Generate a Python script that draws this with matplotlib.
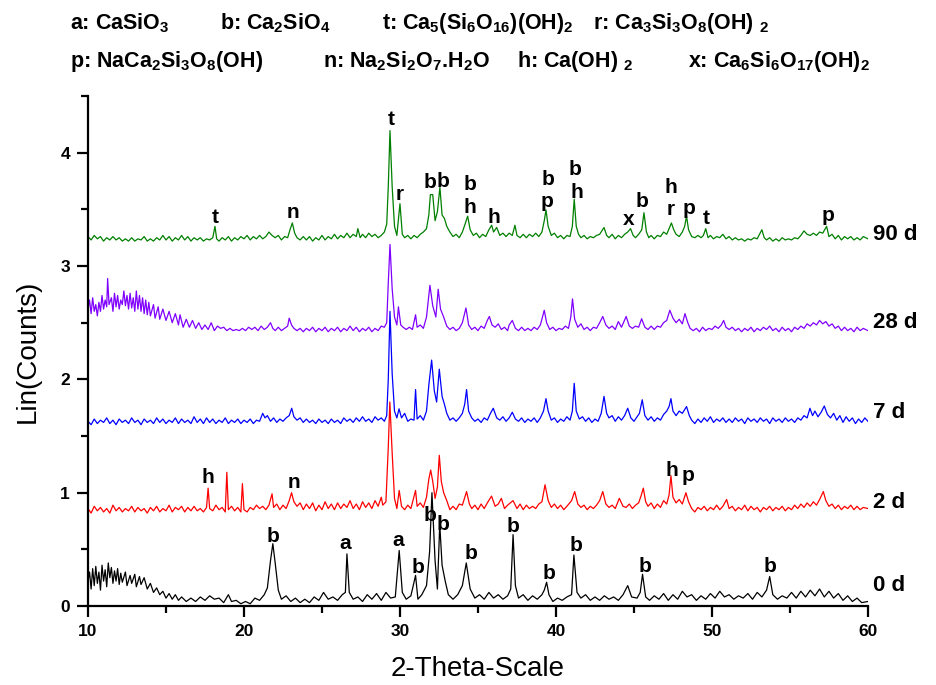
import matplotlib
matplotlib.use("Agg")
import matplotlib.pyplot as plt
from matplotlib.ticker import MultipleLocator

plt.rcParams['font.family'] = ['Liberation Sans', 'DejaVu Sans']
plt.rcParams['mathtext.fontset'] = 'custom'
plt.rcParams['mathtext.rm'] = 'Liberation Sans:bold'
plt.rcParams['mathtext.bf'] = 'Liberation Sans:bold'
plt.rcParams['mathtext.it'] = 'Liberation Sans:bold'
plt.rcParams['mathtext.default'] = 'bf'

# ---------------- data (2-theta, Lin counts) ----------------
d0 = [(10.0,0.22),(10.1,0.30),(10.2,0.15),(10.3,0.33),(10.4,0.18),(10.5,0.35),(10.6,0.20),(10.7,0.30),(10.8,0.14),(10.9,0.36),
      (11.0,0.22),(11.1,0.32),(11.2,0.17),(11.3,0.38),(11.4,0.25),(11.5,0.34),(11.6,0.20),(11.7,0.31),(11.8,0.22),(11.9,0.33),
      (12.0,0.19),(12.1,0.29),(12.2,0.21),(12.4,0.30),(12.5,0.18),(12.7,0.27),(12.8,0.20),(13.0,0.28),(13.1,0.17),(13.3,0.26),
      (13.4,0.19),(13.6,0.25),(13.8,0.15),(14.0,0.20),(14.2,0.12),(14.4,0.16),(14.6,0.10),(14.8,0.13),(15.0,0.07),(15.2,0.11),
      (15.4,0.06),(15.6,0.10),(15.8,0.05),(16.0,0.08),(16.3,0.04),(16.6,0.07),(16.9,0.04),(17.2,0.08),(17.5,0.05),(17.8,0.09),
      (18.1,0.06),(18.4,0.07),(18.7,0.03),(19.0,0.10),(19.2,0.04),(19.5,0.05),(19.8,0.02),(20.1,0.04),(20.4,0.02),(20.7,0.07),
      (21.0,0.05),(21.3,0.10),(21.5,0.16),(21.7,0.40),(21.85,0.55),(22.0,0.38),(22.2,0.14),(22.4,0.06),(22.7,0.09),(23.0,0.04),
      (23.3,0.07),(23.6,0.03),(23.9,0.06),(24.2,0.03),(24.5,0.08),(24.8,0.05),(25.1,0.12),(25.4,0.06),(25.7,0.08),(26.0,0.05),
      (26.3,0.10),(26.5,0.12),(26.6,0.46),(26.75,0.12),(27.0,0.06),(27.3,0.08),(27.6,0.04),(27.9,0.10),(28.2,0.06),(28.5,0.11),
      (28.8,0.05),(29.1,0.12),(29.4,0.07),(29.7,0.08),(29.95,0.49),(30.15,0.12),(30.4,0.06),(30.7,0.09),(31.0,0.27),(31.15,0.06),
      (31.4,0.10),(31.7,0.18),(31.9,0.48),(32.05,1.00),(32.25,0.40),(32.4,0.15),(32.55,0.72),(32.7,0.36),(32.9,0.22),(33.1,0.10),
      (33.4,0.06),(33.7,0.10),(34.0,0.18),(34.25,0.38),(34.5,0.15),(34.8,0.07),(35.1,0.10),(35.4,0.06),(35.7,0.12),(36.0,0.07),
      (36.3,0.10),(36.6,0.06),(36.9,0.09),(37.1,0.15),(37.25,0.63),(37.4,0.18),(37.6,0.07),(37.9,0.10),(38.2,0.05),(38.5,0.09),
      (38.8,0.06),(39.1,0.10),(39.25,0.14),(39.4,0.21),(39.55,0.10),(39.8,0.04),(40.1,0.07),(40.4,0.05),(40.7,0.08),(41.0,0.10),
      (41.15,0.45),(41.35,0.12),(41.6,0.07),(41.9,0.10),(42.2,0.05),(42.5,0.08),(42.8,0.05),(43.1,0.09),(43.4,0.06),(43.7,0.08),
      (44.0,0.05),(44.3,0.10),(44.6,0.18),(44.85,0.08),(45.2,0.07),(45.4,0.12),(45.55,0.28),(45.75,0.08),(46.0,0.05),(46.3,0.09),
      (46.6,0.06),(46.9,0.11),(47.2,0.05),(47.5,0.10),(47.8,0.06),(48.1,0.13),(48.4,0.08),(48.7,0.10),(49.0,0.05),(49.3,0.09),
      (49.6,0.06),(49.9,0.11),(50.2,0.07),(50.5,0.13),(50.8,0.08),(51.1,0.10),(51.4,0.06),(51.7,0.09),(52.0,0.07),(52.3,0.11),
      (52.6,0.06),(52.9,0.12),(53.2,0.08),(53.5,0.14),(53.7,0.26),(53.9,0.10),(54.2,0.06),(54.5,0.09),(54.8,0.07),(55.1,0.12),
      (55.4,0.07),(55.7,0.13),(56.0,0.08),(56.3,0.14),(56.6,0.09),(56.9,0.15),(57.2,0.08),(57.5,0.13),(57.8,0.07),(58.1,0.11),
      (58.4,0.05),(58.7,0.09),(59.0,0.04),(59.3,0.07),(59.6,0.03),(60.0,0.04)]

d2 = [(10.0,0.86),(10.2,0.82),(10.4,0.88),(10.6,0.84),(10.8,0.87),(11.0,0.83),(11.2,0.86),(11.4,0.82),(11.6,0.89),(11.8,0.84),
      (12.0,0.87),(12.2,0.83),(12.4,0.86),(12.6,0.84),(12.8,0.88),(13.0,0.83),(13.2,0.87),(13.4,0.84),(13.6,0.86),(13.8,0.82),
      (14.0,0.87),(14.2,0.84),(14.4,0.88),(14.6,0.83),(14.8,0.86),(15.0,0.84),(15.2,0.89),(15.4,0.83),(15.6,0.87),(15.8,0.85),
      (16.0,0.88),(16.2,0.83),(16.4,0.87),(16.6,0.84),(16.8,0.88),(17.0,0.84),(17.2,0.86),(17.4,0.83),(17.6,0.87),(17.7,1.04),
      (17.8,0.86),(18.0,0.84),(18.2,0.89),(18.4,0.85),(18.6,0.87),(18.8,0.83),(18.9,1.18),(19.0,0.85),(19.2,0.88),(19.4,0.84),
      (19.6,0.87),(19.8,0.83),(19.9,1.08),(20.0,0.85),(20.2,0.83),(20.4,0.87),(20.6,0.85),(20.8,0.89),(21.0,0.86),(21.2,0.88),
      (21.4,0.85),(21.6,0.89),(21.8,0.99),(21.9,0.87),(22.1,0.90),(22.3,0.85),(22.5,0.89),(22.7,0.86),(22.9,0.93),(23.05,1.00),
      (23.2,0.92),(23.4,0.88),(23.6,0.91),(23.8,0.85),(24.0,0.90),(24.2,0.86),(24.4,0.91),(24.6,0.84),(24.8,0.89),(25.0,0.85),
      (25.2,0.92),(25.4,0.86),(25.6,0.90),(25.8,0.85),(26.0,0.91),(26.2,0.86),(26.4,0.90),(26.6,0.87),(26.8,0.93),(27.0,0.86),
      (27.2,0.90),(27.4,0.85),(27.6,0.92),(27.8,0.87),(28.0,0.91),(28.2,0.86),(28.4,0.93),(28.6,0.88),(28.8,0.96),(28.9,0.89),
      (29.1,0.92),(29.25,1.40),(29.35,1.80),(29.5,1.35),(29.65,0.95),(29.8,0.86),(29.95,1.02),(30.1,0.88),(30.3,0.85),(30.5,0.89),
      (30.7,0.86),(31.0,1.02),(31.1,0.88),(31.3,0.91),(31.5,0.87),(31.7,0.96),(31.85,1.12),(31.97,1.20),(32.1,1.10),(32.25,0.95),
      (32.4,1.05),(32.52,1.33),(32.65,1.10),(32.8,1.00),(33.0,0.93),(33.2,0.85),(33.4,0.88),(33.6,0.85),(33.8,0.90),(34.0,0.89),
      (34.27,1.01),(34.45,0.90),(34.6,0.86),(34.8,0.89),(35.0,0.85),(35.2,0.90),(35.4,0.86),(35.6,0.91),(35.87,0.97),(36.1,0.88),
      (36.3,0.90),(36.5,0.95),(36.7,0.86),(36.9,0.89),(37.25,0.93),(37.5,0.86),(37.7,0.90),(37.9,0.85),(38.1,0.89),(38.3,0.86),
      (38.5,0.88),(38.7,0.86),(38.9,0.90),(39.1,0.92),(39.3,1.07),(39.5,0.93),(39.7,0.87),(39.9,0.90),(40.1,0.86),(40.3,0.89),
      (40.5,0.85),(40.7,0.88),(41.0,0.93),(41.2,1.01),(41.4,0.90),(41.6,0.87),(41.8,0.89),(42.0,0.85),(42.2,0.88),(42.4,0.86),
      (42.6,0.89),(42.8,0.93),(43.0,1.01),(43.2,0.90),(43.4,0.87),(43.6,0.89),(43.8,0.86),(44.06,0.95),(44.3,0.88),(44.5,0.87),
      (44.7,0.90),(44.9,0.86),(45.1,0.89),(45.3,0.91),(45.45,0.97),(45.6,1.04),(45.75,0.92),(45.9,0.88),(46.1,0.91),(46.3,0.86),
      (46.5,0.90),(46.7,0.87),(46.9,0.93),(47.1,0.90),(47.25,0.98),(47.37,1.15),(47.5,0.96),(47.7,0.91),(47.9,0.94),(48.1,0.90),
      (48.33,1.00),(48.5,0.92),(48.7,0.86),(48.9,0.83),(49.1,0.87),(49.3,0.85),(49.5,0.88),(49.7,0.84),(49.9,0.87),(50.1,0.85),
      (50.3,0.89),(50.5,0.85),(50.7,0.88),(50.94,0.94),(51.1,0.86),(51.3,0.88),(51.5,0.84),(51.7,0.87),(51.9,0.85),(52.1,0.89),
      (52.3,0.84),(52.5,0.88),(52.7,0.85),(52.9,0.87),(53.1,0.83),(53.3,0.87),(53.5,0.85),(53.7,0.88),(53.9,0.84),(54.1,0.87),
      (54.3,0.85),(54.5,0.88),(54.7,0.84),(54.9,0.87),(55.1,0.85),(55.3,0.89),(55.5,0.86),(55.7,0.90),(55.9,0.87),(56.1,0.91),
      (56.3,0.88),(56.5,0.92),(56.7,0.89),(56.9,0.94),(57.14,1.01),(57.3,0.93),(57.5,0.88),(57.7,0.90),(57.9,0.86),(58.1,0.89),
      (58.3,0.85),(58.5,0.88),(58.7,0.86),(58.9,0.89),(59.1,0.85),(59.3,0.88),(59.5,0.85),(59.7,0.87),(60.0,0.86)]

d7 = [(10.0,1.63),(10.2,1.60),(10.4,1.65),(10.6,1.61),(10.8,1.64),(11.0,1.62),(11.2,1.66),(11.4,1.61),(11.6,1.64),(11.8,1.60),
      (12.0,1.65),(12.2,1.62),(12.4,1.64),(12.6,1.61),(12.8,1.66),(13.0,1.62),(13.2,1.64),(13.4,1.60),(13.6,1.65),(13.8,1.62),
      (14.0,1.64),(14.2,1.61),(14.4,1.66),(14.6,1.62),(14.8,1.65),(15.0,1.61),(15.2,1.64),(15.4,1.62),(15.6,1.66),(15.8,1.61),
      (16.0,1.65),(16.2,1.62),(16.4,1.64),(16.6,1.61),(16.8,1.67),(17.0,1.62),(17.2,1.65),(17.4,1.61),(17.6,1.66),(17.8,1.62),
      (18.0,1.65),(18.2,1.61),(18.4,1.64),(18.6,1.62),(18.8,1.66),(19.0,1.61),(19.2,1.64),(19.4,1.62),(19.6,1.65),(19.8,1.61),
      (20.0,1.64),(20.2,1.62),(20.4,1.65),(20.6,1.61),(20.8,1.64),(21.0,1.63),(21.2,1.70),(21.35,1.66),(21.5,1.68),(21.7,1.63),
      (21.9,1.66),(22.1,1.62),(22.3,1.65),(22.5,1.63),(22.7,1.66),(22.9,1.68),(23.06,1.745),(23.2,1.67),(23.4,1.64),(23.6,1.66),
      (23.8,1.62),(24.0,1.65),(24.2,1.62),(24.4,1.64),(24.6,1.61),(24.8,1.65),(25.0,1.62),(25.2,1.64),(25.4,1.61),(25.6,1.65),
      (25.8,1.62),(26.0,1.64),(26.2,1.61),(26.4,1.66),(26.6,1.63),(26.8,1.65),(27.0,1.62),(27.2,1.66),(27.4,1.63),(27.6,1.67),
      (27.8,1.63),(28.0,1.65),(28.2,1.62),(28.4,1.67),(28.6,1.64),(28.8,1.66),(29.0,1.63),(29.15,1.68),(29.25,2.00),(29.36,2.60),
      (29.5,2.05),(29.65,1.72),(29.8,1.66),(29.94,1.74),(30.1,1.66),(30.3,1.70),(30.5,1.63),(30.7,1.65),(30.9,1.64),(31.0,1.91),
      (31.1,1.65),(31.3,1.68),(31.5,1.64),(31.7,1.72),(31.85,1.95),(32.03,2.17),(32.2,1.90),(32.35,1.80),(32.52,2.09),(32.7,1.85),
      (32.85,1.78),(33.0,1.70),(33.2,1.64),(33.4,1.66),(33.6,1.63),(33.8,1.66),(34.0,1.70),(34.15,1.78),(34.27,1.91),(34.4,1.72),
      (34.6,1.66),(34.8,1.63),(35.0,1.65),(35.2,1.62),(35.4,1.66),(35.6,1.64),(35.8,1.70),(35.98,1.745),(36.2,1.66),(36.4,1.64),
      (36.6,1.67),(36.8,1.63),(37.0,1.66),(37.2,1.71),(37.4,1.65),(37.6,1.63),(37.8,1.66),(38.0,1.62),(38.2,1.65),(38.4,1.63),
      (38.6,1.66),(38.8,1.62),(39.0,1.66),(39.2,1.72),(39.36,1.83),(39.5,1.72),(39.7,1.64),(39.9,1.66),(40.1,1.62),(40.3,1.65),
      (40.5,1.63),(40.7,1.67),(40.9,1.64),(41.05,1.72),(41.17,1.965),(41.3,1.72),(41.5,1.65),(41.7,1.67),(41.9,1.63),(42.1,1.66),
      (42.3,1.62),(42.5,1.65),(42.7,1.63),(42.9,1.70),(43.08,1.85),(43.25,1.70),(43.4,1.66),(43.6,1.68),(43.8,1.63),(44.0,1.67),
      (44.2,1.64),(44.4,1.68),(44.6,1.745),(44.8,1.66),(45.0,1.63),(45.2,1.67),(45.35,1.70),(45.53,1.82),(45.7,1.68),(45.9,1.64),
      (46.1,1.67),(46.3,1.63),(46.5,1.66),(46.7,1.64),(46.9,1.69),(47.1,1.72),(47.25,1.76),(47.37,1.83),(47.5,1.72),(47.7,1.68),
      (47.9,1.72),(48.1,1.70),(48.37,1.76),(48.55,1.68),(48.7,1.64),(48.9,1.61),(49.1,1.65),(49.3,1.62),(49.5,1.66),(49.7,1.63),
      (49.9,1.67),(50.1,1.62),(50.3,1.65),(50.5,1.63),(50.7,1.66),(50.9,1.62),(51.1,1.65),(51.3,1.62),(51.5,1.66),(51.7,1.63),
      (51.9,1.65),(52.1,1.61),(52.3,1.66),(52.5,1.63),(52.7,1.65),(52.9,1.62),(53.1,1.66),(53.3,1.63),(53.5,1.65),(53.7,1.61),
      (53.9,1.66),(54.1,1.63),(54.3,1.65),(54.5,1.62),(54.7,1.66),(54.9,1.63),(55.1,1.65),(55.3,1.62),(55.5,1.66),(55.7,1.64),
      (55.9,1.68),(56.1,1.66),(56.28,1.745),(56.45,1.68),(56.6,1.72),(56.8,1.67),(57.0,1.71),(57.2,1.765),(57.4,1.69),(57.6,1.66),
      (57.8,1.70),(58.0,1.64),(58.2,1.68),(58.4,1.62),(58.6,1.67),(58.8,1.63),(59.0,1.66),(59.2,1.61),(59.4,1.65),(59.6,1.62),
      (59.8,1.66),(60.0,1.63)]

d28 = [(10.0,2.62),(10.1,2.70),(10.2,2.58),(10.3,2.72),(10.4,2.60),(10.5,2.66),(10.6,2.56),(10.7,2.68),(10.8,2.60),(10.9,2.74),
       (11.0,2.62),(11.1,2.70),(11.2,2.64),(11.26,2.89),(11.35,2.66),(11.5,2.72),(11.6,2.60),(11.7,2.76),(11.8,2.64),(11.9,2.74),
       (12.0,2.62),(12.1,2.70),(12.2,2.66),(12.3,2.78),(12.4,2.65),(12.5,2.74),(12.6,2.62),(12.7,2.76),(12.8,2.63),(12.9,2.72),
       (13.0,2.60),(13.1,2.78),(13.2,2.62),(13.3,2.74),(13.4,2.60),(13.5,2.72),(13.6,2.58),(13.7,2.70),(13.8,2.57),(13.9,2.68),
       (14.0,2.56),(14.2,2.66),(14.3,2.54),(14.5,2.64),(14.6,2.53),(14.8,2.62),(15.0,2.52),(15.2,2.60),(15.4,2.50),(15.6,2.58),
       (15.8,2.48),(15.9,2.57),(16.1,2.46),(16.3,2.53),(16.5,2.46),(16.7,2.52),(16.9,2.45),(17.1,2.50),(17.3,2.44),(17.5,2.48),
       (17.7,2.44),(17.9,2.50),(18.1,2.43),(18.3,2.47),(18.5,2.45),(18.7,2.46),(18.9,2.43),(19.1,2.45),(19.3,2.43),(19.5,2.44),
       (19.7,2.43),(19.9,2.45),(20.1,2.43),(20.3,2.46),(20.5,2.44),(20.7,2.46),(20.9,2.43),(21.1,2.47),(21.3,2.44),(21.5,2.46),
       (21.7,2.50),(21.85,2.45),(22.0,2.43),(22.2,2.46),(22.4,2.43),(22.6,2.45),(22.8,2.47),(22.9,2.54),(23.05,2.48),(23.2,2.45),
       (23.4,2.43),(23.6,2.45),(23.8,2.42),(24.0,2.45),(24.2,2.43),(24.4,2.46),(24.6,2.42),(24.8,2.45),(25.0,2.43),(25.2,2.46),
       (25.4,2.42),(25.6,2.45),(25.8,2.43),(26.0,2.46),(26.2,2.42),(26.4,2.45),(26.6,2.43),(26.8,2.47),(27.0,2.43),(27.2,2.46),
       (27.4,2.42),(27.6,2.45),(27.8,2.43),(28.0,2.46),(28.2,2.42),(28.4,2.45),(28.6,2.43),(28.8,2.47),(29.0,2.46),(29.15,2.50),
       (29.25,2.85),(29.36,3.19),(29.5,2.80),(29.65,2.55),(29.8,2.48),(29.9,2.64),(30.05,2.48),(30.2,2.46),(30.4,2.44),(30.6,2.46),
       (30.8,2.44),(31.0,2.57),(31.1,2.46),(31.3,2.48),(31.5,2.45),(31.7,2.55),(31.92,2.83),(32.1,2.65),(32.3,2.55),(32.45,2.795),
       (32.6,2.62),(32.8,2.55),(33.0,2.47),(33.2,2.44),(33.4,2.46),(33.6,2.43),(33.8,2.45),(34.0,2.50),(34.23,2.63),(34.4,2.48),
       (34.6,2.44),(34.8,2.46),(35.0,2.43),(35.2,2.47),(35.4,2.45),(35.6,2.52),(35.73,2.555),(35.9,2.48),(36.1,2.46),(36.3,2.49),
       (36.5,2.44),(36.7,2.46),(36.9,2.43),(37.0,2.48),(37.2,2.52),(37.4,2.45),(37.6,2.43),(37.8,2.46),(38.0,2.43),(38.2,2.45),
       (38.4,2.43),(38.6,2.46),(38.8,2.44),(39.0,2.48),(39.15,2.56),(39.25,2.61),(39.4,2.50),(39.6,2.44),(39.8,2.46),(40.0,2.43),
       (40.2,2.45),(40.4,2.44),(40.6,2.47),(40.8,2.45),(40.95,2.55),(41.06,2.71),(41.2,2.53),(41.4,2.46),(41.6,2.49),(41.8,2.44),
       (42.0,2.46),(42.2,2.43),(42.4,2.46),(42.6,2.45),(42.8,2.50),(43.0,2.555),(43.2,2.48),(43.4,2.45),(43.6,2.47),(43.8,2.44),
       (44.0,2.51),(44.2,2.46),(44.5,2.555),(44.7,2.47),(44.9,2.45),(45.1,2.47),(45.3,2.46),(45.49,2.535),(45.7,2.46),(45.9,2.44),
       (46.1,2.47),(46.3,2.44),(46.5,2.47),(46.7,2.46),(46.9,2.50),(47.1,2.52),(47.3,2.61),(47.5,2.54),(47.7,2.50),(47.9,2.53),
       (48.1,2.49),(48.27,2.58),(48.45,2.50),(48.6,2.45),(48.8,2.43),(49.0,2.45),(49.2,2.42),(49.4,2.46),(49.6,2.43),(49.8,2.45),
       (50.0,2.44),(50.2,2.47),(50.4,2.45),(50.6,2.48),(50.75,2.52),(50.9,2.46),(51.1,2.44),(51.3,2.46),(51.5,2.43),(51.7,2.45),
       (51.9,2.42),(52.1,2.45),(52.3,2.43),(52.5,2.46),(52.7,2.42),(52.9,2.45),(53.1,2.43),(53.3,2.46),(53.5,2.44),(53.7,2.47),
       (53.9,2.43),(54.1,2.45),(54.3,2.42),(54.5,2.46),(54.7,2.43),(54.9,2.45),(55.1,2.42),(55.3,2.46),(55.5,2.44),(55.7,2.47),
       (55.9,2.45),(56.1,2.49),(56.3,2.47),(56.5,2.50),(56.7,2.48),(56.9,2.52),(57.1,2.49),(57.3,2.51),(57.5,2.47),(57.7,2.49),
       (57.9,2.45),(58.1,2.47),(58.3,2.43),(58.5,2.46),(58.7,2.43),(58.9,2.45),(59.1,2.42),(59.3,2.46),(59.5,2.43),(59.7,2.45),
       (60.0,2.43)]

d90 = [(10.0,3.26),(10.2,3.23),(10.4,3.27),(10.6,3.24),(10.8,3.26),(11.0,3.22),(11.2,3.25),(11.4,3.23),(11.6,3.26),(11.8,3.23),
       (12.0,3.25),(12.2,3.22),(12.4,3.24),(12.6,3.22),(12.8,3.25),(13.0,3.22),(13.2,3.24),(13.4,3.23),(13.6,3.26),(13.8,3.22),
       (14.0,3.24),(14.2,3.22),(14.4,3.25),(14.6,3.23),(14.8,3.27),(15.0,3.23),(15.2,3.26),(15.4,3.22),(15.6,3.25),(15.8,3.23),
       (16.0,3.27),(16.2,3.23),(16.4,3.26),(16.6,3.22),(16.8,3.25),(17.0,3.23),(17.2,3.25),(17.4,3.22),(17.6,3.24),(17.8,3.23),
       (18.0,3.25),(18.14,3.35),(18.25,3.24),(18.4,3.22),(18.6,3.25),(18.8,3.23),(19.0,3.26),(19.2,3.22),(19.4,3.25),(19.6,3.23),
       (19.8,3.26),(20.0,3.24),(20.2,3.27),(20.4,3.23),(20.6,3.26),(20.8,3.24),(21.0,3.27),(21.2,3.24),(21.4,3.26),(21.6,3.30),
       (21.8,3.27),(22.0,3.25),(22.2,3.27),(22.4,3.23),(22.6,3.26),(22.8,3.25),(22.95,3.32),(23.1,3.38),(23.25,3.29),(23.4,3.25),
       (23.6,3.23),(23.8,3.26),(24.0,3.23),(24.2,3.26),(24.4,3.22),(24.6,3.25),(24.8,3.23),(25.0,3.27),(25.2,3.23),(25.4,3.26),
       (25.6,3.24),(25.8,3.28),(26.0,3.24),(26.2,3.27),(26.4,3.25),(26.6,3.29),(26.8,3.25),(27.0,3.28),(27.2,3.26),(27.3,3.33),
       (27.45,3.25),(27.6,3.28),(27.8,3.25),(28.0,3.29),(28.2,3.26),(28.4,3.28),(28.6,3.25),(28.8,3.27),(29.0,3.30),(29.15,3.37),
       (29.25,3.70),(29.36,4.195),(29.5,3.70),(29.65,3.35),(29.8,3.27),(30.0,3.55),(30.15,3.28),(30.3,3.25),(30.5,3.27),(30.7,3.24),
       (30.9,3.27),(31.1,3.25),(31.3,3.28),(31.5,3.30),(31.7,3.33),(31.85,3.45),(31.95,3.63),(32.1,3.63),(32.25,3.40),(32.4,3.48),
       (32.56,3.695),(32.7,3.45),(32.85,3.42),(33.0,3.35),(33.2,3.30),(33.4,3.26),(33.6,3.28),(33.8,3.25),(34.0,3.30),(34.15,3.36),
       (34.34,3.44),(34.5,3.32),(34.7,3.27),(34.9,3.29),(35.1,3.25),(35.3,3.28),(35.5,3.26),(35.7,3.32),(35.88,3.36),(36.0,3.30),
       (36.2,3.34),(36.4,3.27),(36.6,3.29),(36.8,3.26),(37.0,3.29),(37.2,3.27),(37.37,3.36),(37.5,3.27),(37.7,3.25),(37.9,3.28),
       (38.1,3.25),(38.3,3.28),(38.5,3.26),(38.7,3.29),(38.9,3.26),(39.1,3.30),(39.25,3.40),(39.36,3.495),(39.5,3.35),(39.7,3.27),
       (39.9,3.29),(40.1,3.25),(40.3,3.27),(40.5,3.24),(40.7,3.27),(40.9,3.26),(41.05,3.35),(41.17,3.59),(41.3,3.35),(41.45,3.28),
       (41.6,3.25),(41.8,3.27),(42.0,3.24),(42.2,3.26),(42.4,3.25),(42.6,3.27),(42.8,3.28),(43.08,3.34),(43.25,3.27),(43.4,3.25),
       (43.6,3.28),(43.8,3.24),(44.0,3.27),(44.2,3.25),(44.4,3.28),(44.6,3.30),(44.78,3.33),(44.95,3.27),(45.1,3.25),(45.3,3.28),
       (45.5,3.32),(45.64,3.47),(45.8,3.30),(45.95,3.25),(46.1,3.27),(46.3,3.24),(46.5,3.27),(46.7,3.26),(46.9,3.30),(47.1,3.28),
       (47.25,3.33),(47.4,3.38),(47.55,3.32),(47.7,3.28),(47.9,3.26),(48.1,3.30),(48.25,3.35),(48.37,3.44),(48.5,3.32),(48.7,3.26),
       (48.9,3.25),(49.1,3.27),(49.3,3.25),(49.45,3.27),(49.6,3.33),(49.75,3.25),(49.9,3.27),(50.1,3.24),(50.3,3.26),(50.5,3.25),
       (50.7,3.28),(50.9,3.24),(51.1,3.26),(51.3,3.23),(51.5,3.25),(51.7,3.23),(51.9,3.24),(52.1,3.22),(52.3,3.24),(52.5,3.23),
       (52.7,3.25),(52.9,3.24),(53.2,3.32),(53.35,3.25),(53.5,3.23),(53.7,3.25),(53.9,3.22),(54.1,3.24),(54.3,3.22),(54.5,3.25),
       (54.7,3.23),(54.9,3.24),(55.1,3.23),(55.3,3.25),(55.5,3.24),(55.7,3.27),(55.9,3.31),(56.1,3.28),(56.3,3.27),(56.5,3.29),
       (56.7,3.27),(56.9,3.30),(57.1,3.29),(57.35,3.35),(57.5,3.26),(57.7,3.28),(57.9,3.24),(58.1,3.27),(58.3,3.23),(58.5,3.26),
       (58.7,3.24),(58.9,3.26),(59.1,3.23),(59.3,3.25),(59.5,3.23),(59.7,3.26),(60.0,3.24)]

series_names = ["0 d", "2 d", "7 d", "28 d", "90 d"]
series_data = [d0, d2, d7, d28, d90]
series_colors = ["#000000", "#ff0000", "#0000ff", "#8000ff", "#008000"]
series_label_y = [0.18, 0.91, 1.71, 2.50, 3.28]

# phase letters: (letter, 2theta, y)
marks_0 = [("b",21.84,0.61),("a",26.52,0.55),("a",29.89,0.58),("b",31.13,0.34),("b",31.92,0.80),("b",32.78,0.72),
           ("b",34.53,0.46),("b",37.26,0.70),("b",39.57,0.29),("b",41.28,0.53),("b",45.70,0.35),("b",53.72,0.35)]
marks_2 = [("h",17.66,1.13),("n",23.22,1.09),("h",47.40,1.20),("p",48.45,1.15)]
marks_90 = [("t",18.14,3.43),("n",23.16,3.47),("t",29.44,4.29),("r",30.0,3.63),("b",31.92,3.74),("b",32.76,3.75),
            ("b",34.49,3.72),("h",34.49,3.52),("h",35.99,3.43),("b",39.5,3.76),("p",39.44,3.57),("b",41.23,3.85),
            ("h",41.33,3.65),("x",44.68,3.41),("b",45.49,3.57),("h",47.35,3.69),("r",47.35,3.50),("p",48.53,3.51),
            ("t",49.63,3.42),("p",57.43,3.45)]

legend_row1 = ["a: CaSiO$_3$", "b: Ca$_2$SiO$_4$", "t: Ca$_5$(Si$_6$O$_{16}$)(OH)$_2$", "r: Ca$_3$Si$_3$O$_8$(OH) ${}_2$"]
legend_row2 = ["p: NaCa$_2$Si$_3$O$_8$(OH)", "n: Na$_2$Si$_2$O$_7$.H$_2$O", "h: Ca(OH) ${}_2$", "x: Ca$_6$Si$_6$O$_{17}$(OH)$_2$"]

# ---------------- figure ----------------
fig = plt.figure(figsize=(9.36, 6.85), dpi=100)
ax = fig.add_axes([0.094, 0.1153, 0.8333, 0.7445])

for name, data, col, ly in zip(series_names, series_data, series_colors, series_label_y):
    xs = [p[0] for p in data]
    ys = [p[1] for p in data]
    ax.plot(xs, ys, color=col, lw=0.9)
    ax.text(60.3, ly, name, fontsize=16, fontweight='bold', ha='left', va='center', clip_on=False)

for group in (marks_0, marks_2, marks_90):
    for letter, x, y in group:
        ax.text(x, y, letter, fontsize=15, fontweight='bold', ha='center', va='center')

ax.set_xlim(10, 60)
ax.set_ylim(0, 4.5)
ax.xaxis.set_major_locator(MultipleLocator(10))
ax.xaxis.set_minor_locator(MultipleLocator(5))
ax.yaxis.set_major_locator(MultipleLocator(1))
ax.yaxis.set_minor_locator(MultipleLocator(0.5))
ax.spines['top'].set_visible(False)
ax.spines['right'].set_visible(False)
for s in ('left', 'bottom'):
    ax.spines[s].set_linewidth(1.6)
ax.tick_params(which='major', direction='out', length=8, width=1.6, labelsize=12.5, pad=5)
ax.tick_params(which='minor', direction='out', length=5, width=1.6)
for lab in ax.get_xticklabels() + ax.get_yticklabels():
    lab.set_fontweight('bold')

ax.set_xlabel("2-Theta-Scale", fontsize=20, labelpad=12)
ax.set_ylabel("Lin(Counts)", fontsize=20, labelpad=14)

row1_x = [70, 220, 382, 593]
row2_x = [70, 323, 517, 688]
for txt, px in zip(legend_row1, row1_x):
    fig.text(px / 936, 1 - 29 / 685, txt, fontsize=15.5, fontweight='bold', ha='left', va='baseline')
for txt, px in zip(legend_row2, row2_x):
    fig.text(px / 936, 1 - 67 / 685, txt, fontsize=15.5, fontweight='bold', ha='left', va='baseline')

fig.savefig("out.png", dpi=100)
